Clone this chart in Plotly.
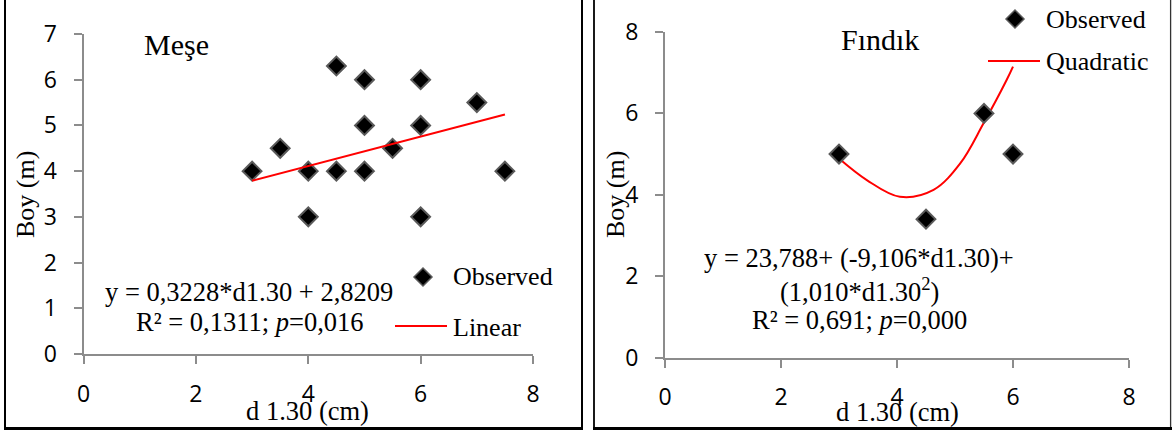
import plotly.graph_objects as go

W, H = 1172, 432

# ---- data ----
mese_x = [3, 3.5, 4, 4, 4.5, 4.5, 5, 5, 5, 5.5, 6, 6, 6, 7, 7.5]
mese_y = [4, 4.5, 4, 3, 6.3, 4, 6, 5, 4, 4.5, 6, 5, 3, 5.5, 4]
lin_x = [3, 7.5]
lin_y = [3.79, 5.24]

fin_x = [3, 4.5, 5.5, 6]
fin_y = [5, 3.4, 6, 5]
quad_x = [3.0, 3.48, 4.05, 4.63, 5.09, 5.49, 5.89, 6.0]
quad_y = [4.89, 4.36, 3.95, 4.12, 4.77, 5.75, 6.82, 7.15]

left_yticks = [0, 1, 2, 3, 4, 5, 6, 7]
right_yticks = [0, 2, 4, 6, 8]
xticks = [0, 2, 4, 6, 8]

SERIF = "Liberation Serif"
SANS = "Open Sans"
AXC = "#8c8c8c"


def px(x):
    return x / W


def py(y):
    return 1 - y / H


fig = go.Figure()

marker = dict(symbol="diamond", size=14.5, color="black", line=dict(color="#5a5a5a", width=2))

fig.add_trace(go.Scatter(x=mese_x, y=mese_y, mode="markers", marker=marker,
                         xaxis="x", yaxis="y", showlegend=False))
fig.add_trace(go.Scatter(x=lin_x, y=lin_y, mode="lines", line=dict(color="#ff0000", width=2),
                         xaxis="x", yaxis="y", showlegend=False))
fig.add_trace(go.Scatter(x=quad_x, y=quad_y, mode="lines",
                         line=dict(color="#ff0000", width=2, shape="spline", smoothing=1.0),
                         xaxis="x2", yaxis="y2", showlegend=False))
fig.add_trace(go.Scatter(x=fin_x, y=fin_y, mode="markers", marker=marker,
                         xaxis="x2", yaxis="y2", showlegend=False))

axis_common = dict(showline=True, linecolor=AXC, linewidth=2, ticks="outside",
                   ticklen=8, tickwidth=2, tickcolor=AXC, showgrid=False, zeroline=False,
                   automargin=False,
                   tickfont=dict(family=SANS, size=23, color="black"))

fig.update_layout(
    width=W, height=H, margin=dict(l=0, r=0, t=0, b=0, autoexpand=False),
    paper_bgcolor="white", plot_bgcolor="white",
    xaxis=dict(domain=[px(83.6), px(533)], range=[0, 8], tickvals=xticks, anchor="y",
               ticklabelstandoff=10, **axis_common),
    yaxis=dict(domain=[py(354), py(34)], range=[0, 7], tickvals=left_yticks, anchor="x",
               ticklabelstandoff=12, **axis_common),
    xaxis2=dict(domain=[px(665), px(1129)], range=[0, 8], tickvals=xticks, anchor="y2",
                ticklabelstandoff=10, **axis_common),
    yaxis2=dict(domain=[py(357.5), py(32)], range=[0, 8], tickvals=right_yticks, anchor="x2",
                ticklabelstandoff=12, **axis_common),
)

ann = []


def text(t, x, y, size=25, xanchor="center", angle=0):
    ann.append(dict(text=t, x=px(x), y=py(y), xref="paper", yref="paper",
                    xanchor=xanchor, yanchor="middle", showarrow=False, textangle=angle,
                    font=dict(family=SERIF, size=size, color="black")))


# left panel texts
text("Meşe", 176.5, 45, size=30)
text("y = 0,3228*d1.30 + 2,8209", 248.5, 292, size=26.5)
text("R² = 0,1311; <i>p</i>=0,016", 249.5, 322, size=26.5)
text("Observed", 451, 276, size=26)
ann[-1]["xanchor"] = "left"
text("Linear", 451, 327, size=26, xanchor="left")
text("d 1.30 (cm)", 307.5, 411, size=26.5)
text("Boy (m)", 26, 195, size=26, angle=-90)

# right panel texts
text("Fındık", 880, 40, size=30)
text("y = 23,788+ (-9,106*d1.30)+", 859, 258, size=26.5)
text("(1,010*d1.30<sup>2</sup>)", 859, 290, size=26.5)
text("R² = 0,691; <i>p</i>=0,000", 859, 320, size=26.5)
text("Observed", 1044, 20, size=26, xanchor="left")
text("Quadratic", 1044, 62, size=26, xanchor="left")
text("d 1.30 (cm)", 897.5, 412, size=26.5)
text("Boy (m)", 616, 195, size=26, angle=-90)

fig.update_layout(annotations=ann)

shapes = []


def diamond(cx, cy, r=9):
    shapes.append(dict(type="path", xref="paper", yref="paper",
                       xsizemode="pixel", ysizemode="pixel",
                       xanchor=px(cx), yanchor=py(cy),
                       path=f"M {-r},0 L 0,{r} L {r},0 L 0,{-r} Z",
                       fillcolor="black", line=dict(color="#5a5a5a", width=1.5)))


def hline(x0, x1, y, color, width):
    shapes.append(dict(type="line", xref="paper", yref="paper",
                       x0=px(x0), x1=px(x1), y0=py(y), y1=py(y),
                       line=dict(color=color, width=width)))


def vline(x, y0, y1, color, width):
    shapes.append(dict(type="line", xref="paper", yref="paper",
                       x0=px(x), x1=px(x), y0=py(y0), y1=py(y1),
                       line=dict(color=color, width=width)))


# legend glyphs
diamond(423, 277)
hline(395, 447, 326, "#ff0000", 2)
diamond(1015, 19)
hline(988, 1040, 61, "#ff0000", 2)

# panel borders
vline(5, -5, 428.5, "black", 2)
vline(582, -5, 428.5, "black", 2)
hline(4, 583, 428.5, "black", 3)
vline(594, -5, 428.5, "black", 1.8)
vline(1170.6, -5, 428.5, "#333333", 1.3)
hline(593, 1172, 428.5, "black", 3)

fig.update_layout(shapes=shapes)

fig.write_html(
    "out.html",
    post_script="document.body.style.margin='0';",
)
